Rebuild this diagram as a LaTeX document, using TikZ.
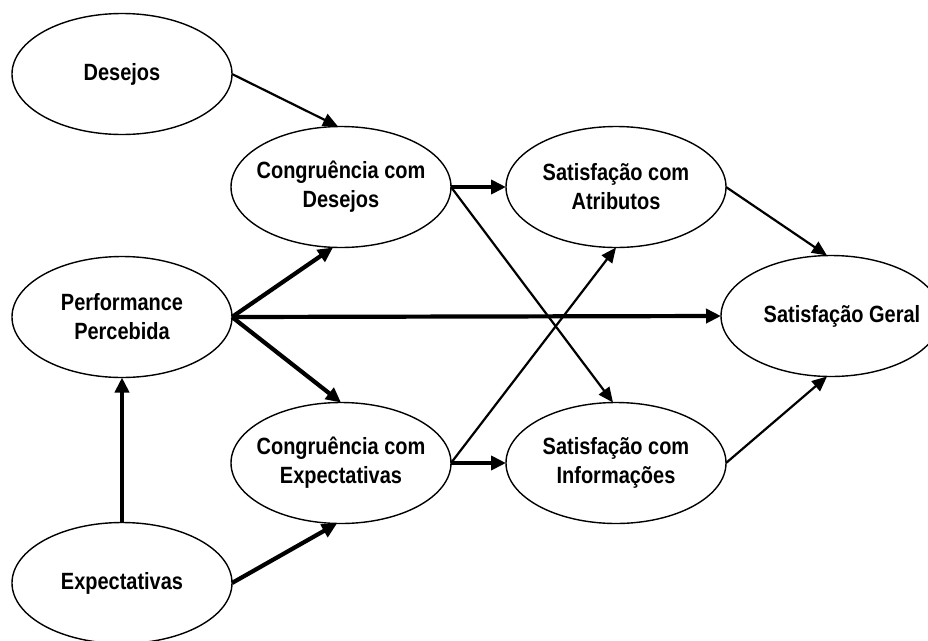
\documentclass[tikz,border=0pt]{standalone}
\usepackage{fontspec}
\setmainfont{Liberation Sans}
\newfontfamily\labelfont[FakeStretch=0.85]{Liberation Sans Bold}
\usetikzlibrary{shapes.geometric,arrows.meta}
\begin{document}
\begin{tikzpicture}[x=1pt,y=-1pt,
  construct/.style={ellipse, draw, line width=1.4pt, minimum width=220pt, minimum height=121pt,
    inner xsep=-40pt, inner ysep=0pt, outer sep=0pt, align=center,
    font=\labelfont\fontsize{23.5}{29}\selectfont},
  thinarrow/.style={line width=2.2pt, -{Triangle[length=15pt,width=13pt]}},
  thickarrow/.style={line width=4.2pt, -{Triangle[length=15pt,width=14pt]}}]
\clip (0,0) rectangle (928,640);
\useasboundingbox (0,0) rectangle (928,640);

% constructs
\node[construct] (des)  at (122,74)  {Desejos};
\node[construct] (cd)   at (341,187) {Congruência com\\Desejos};
\node[construct] (sa)   at (616,187) {Satisfação com\\Atributos};
\node[construct] (perf) at (122,317) {Performance\\Percebida};
\node[construct] (sg)   at (831,316) {\hspace*{22pt}Satisfação Geral};
\node[construct] (ce)   at (341,463) {Congruência com\\Expectativas};
\node[construct] (si)   at (616,463) {Satisfação com\\Informações};
\node[construct] (exp)  at (122,583) {Expectativas};

% paths between constructs
\draw[thinarrow]  (des.east)  -- ([xshift=-3pt]cd.north);
\draw[thickarrow] (perf.east) -- ([xshift=-8pt]cd.south);
\draw[thickarrow] (perf.east) -- (ce.north);
\draw[thickarrow] (perf.east) -- (sg.west);
\draw[thickarrow] (exp.north) -- (perf.south);
\draw[thickarrow] (exp.east)  -- ([xshift=-4pt]ce.south);
\draw[thickarrow] (cd.east)   -- (sa.west);
\draw[thinarrow]  (cd.east)   -- ([xshift=-3pt]si.north);
\draw[thinarrow]  (ce.east)   -- (sa.south);
\draw[thickarrow] (ce.east)   -- (si.west);
\draw[thinarrow]  (sa.east)   -- ([xshift=-4pt]sg.north);
\draw[thinarrow]  (si.east)   -- ([xshift=-4pt]sg.south);
\end{tikzpicture}
\end{document}
